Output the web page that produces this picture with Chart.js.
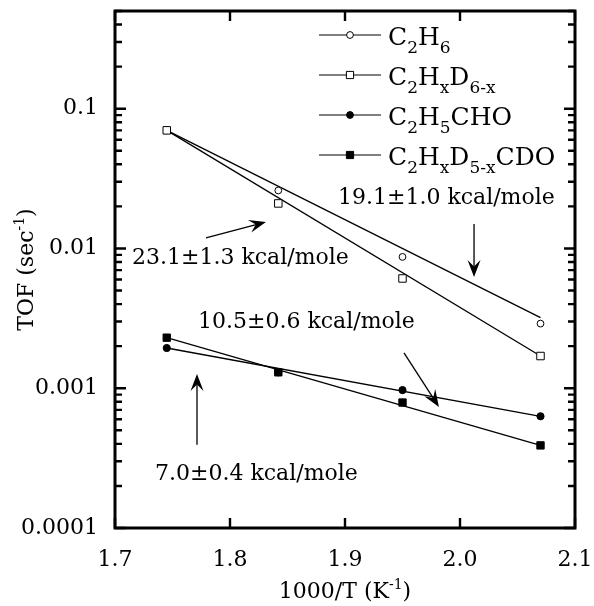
<!DOCTYPE html>
<html>
<head>
<meta charset="utf-8">
<script src="https://cdn.jsdelivr.net/npm/chart.js@4.4.1/dist/chart.umd.min.js"></script>
<style>
  html, body { margin: 0; padding: 0; background: #fff; }
  #wrap { width: 594px; height: 606px; }
</style>
</head>
<body>
<div id="wrap"><canvas id="tofChart" width="594" height="606"></canvas></div>
<script>
// Data
var xValues = [1.745, 1.842, 1.950, 2.070];
var c2h6 = [0.070, 0.026, 0.0087, 0.0029];
var c2hxd6x = [0.070, 0.021, 0.0061, 0.0017];
var c2h5cho = [0.00194, 0.0013, 0.00097, 0.00063];
var c2hxd5xcdo = [0.0023, 0.0013, 0.00079, 0.00039];

// Fitted lines (end points)
var fitX = [1.745, 2.070];
var fitC2h6 = [0.070, 0.0032];
var fitC2hxd6x = [0.070, 0.0017];
var fitC2h5cho = [0.00194, 0.00063];
var fitC2hxd5xcdo = [0.0023, 0.00039];

// Axes
var xTicks = [1.7, 1.8, 1.9, 2.0, 2.1];
var yDecades = [0.0001, 0.001, 0.01, 0.1];
var yMin = 0.0001, yMax = 0.5;

// Legend
var legendLabels = ['C_{2}H_{6}', 'C_{2}H_{x}D_{6-x}', 'C_{2}H_{5}CHO', 'C_{2}H_{x}D_{5-x}CDO'];
var legendMarkers = ['circleOpen', 'rectOpen', 'circle', 'rect'];

// Annotations (text anchor in data units, arrow tail -> tip in data units)
var noteTexts = ['23.1\u00b11.3 kcal/mole', '19.1\u00b11.0 kcal/mole', '10.5\u00b10.6 kcal/mole', '7.0\u00b10.4 kcal/mole'];
var noteAt = [[1.7148, 0.00855], [1.8939, 0.0230], [1.7722, 0.00298], [1.7348, 0.000244]];
var arrowTail = [[1.7791, 0.01189], [2.0122, 0.01496], [1.9513, 0.00179], [1.7713, 0.000394]];
var arrowTip = [[1.8313, 0.01549], [2.0122, 0.00625], [1.9817, 0.000735], [1.7713, 0.001265]];

var FONT = "'DejaVu Serif', 'Liberation Serif', serif";

var toPoints = function (xs, ys) {
  return xs.map(function (x, i) { return { x: x, y: ys[i] }; });
};

// Parse 'C_{2}H_{6}' / 'K^{-1}' into segments
var parseRich = function (s) {
  var parts = [];
  var re = /_\{([^}]*)\}|\^\{([^}]*)\}|([^_^]+)/g;
  var m;
  while ((m = re.exec(s)) !== null) {
    if (m[1] !== undefined) parts.push({ t: m[1], k: 'sub' });
    else if (m[2] !== undefined) parts.push({ t: m[2], k: 'sup' });
    else parts.push({ t: m[3], k: 'n' });
  }
  return parts;
};

var richWidth = function (ctx, s, size, small) {
  var w = 0;
  parseRich(s).forEach(function (p) {
    ctx.font = (p.k === 'n' ? size : small) + 'px ' + FONT;
    w += ctx.measureText(p.t).width;
  });
  return w;
};

var drawRich = function (ctx, s, x, y, size, small, subDy, supDy) {
  ctx.textBaseline = 'alphabetic';
  ctx.textAlign = 'left';
  parseRich(s).forEach(function (p) {
    ctx.font = (p.k === 'n' ? size : small) + 'px ' + FONT;
    var dy = p.k === 'sub' ? subDy : (p.k === 'sup' ? -supDy : 0);
    ctx.fillText(p.t, x, y + dy);
    x += ctx.measureText(p.t).width;
  });
};

var drawMarker = function (ctx, kind, x, y) {
  ctx.lineWidth = 1;
  ctx.strokeStyle = '#000';
  ctx.fillStyle = kind.indexOf('Open') > 0 ? '#fff' : '#000';
  ctx.beginPath();
  if (kind.indexOf('circle') === 0) ctx.arc(x, y, 3.4, 0, Math.PI * 2);
  else ctx.rect(x - 3.6, y - 3.6, 7.2, 7.2);
  ctx.fill();
  ctx.stroke();
};

var drawArrow = function (ctx, x0, y0, x1, y1) {
  var dx = x1 - x0, dy = y1 - y0;
  var len = Math.sqrt(dx * dx + dy * dy);
  var ux = dx / len, uy = dy / len;
  var L = 17, W = 6.5;
  ctx.strokeStyle = '#000';
  ctx.lineWidth = 1.3;
  ctx.beginPath();
  ctx.moveTo(x0, y0);
  ctx.lineTo(x1 - ux * L * 0.6, y1 - uy * L * 0.6);
  ctx.stroke();
  ctx.fillStyle = '#000';
  ctx.beginPath();
  ctx.moveTo(x1, y1);
  ctx.lineTo(x1 - ux * L - uy * W, y1 - uy * L + ux * W);
  ctx.lineTo(x1 - ux * L * 0.62, y1 - uy * L * 0.62);
  ctx.lineTo(x1 - ux * L + uy * W, y1 - uy * L - ux * W);
  ctx.closePath();
  ctx.fill();
};

// Frame, inward ticks, axis titles, legend and notes
var decorPlugin = {
  id: 'decor',
  afterDraw: function (chart) {
    var ctx = chart.ctx;
    var a = chart.chartArea;
    var xs = chart.scales.x, ys = chart.scales.y;
    ctx.save();

    // ticks
    ctx.strokeStyle = '#000';
    ctx.lineWidth = 2.4;
    ctx.beginPath();
    xTicks.forEach(function (v) {
      var px = xs.getPixelForValue(v);
      ctx.moveTo(px, a.bottom); ctx.lineTo(px, a.bottom - 10);
      ctx.moveTo(px, a.top); ctx.lineTo(px, a.top + 10);
    });
    yDecades.forEach(function (d) {
      for (var k = 1; k <= 9; k++) {
        var v = d * k;
        if (v > yMax * 1.0001) break;
        var py = ys.getPixelForValue(v);
        var tl = k === 1 ? 11 : 7;
        ctx.moveTo(a.left, py); ctx.lineTo(a.left + tl, py);
        ctx.moveTo(a.right, py); ctx.lineTo(a.right - tl, py);
      }
    });
    ctx.stroke();

    // frame
    ctx.lineWidth = 3;
    ctx.strokeRect(a.left, a.top, a.right - a.left, a.bottom - a.top);

    // axis titles
    ctx.fillStyle = '#000';
    var xt = '1000/T (K^{-1})';
    var xw = richWidth(ctx, xt, 22, 14);
    drawRich(ctx, xt, (a.left + a.right) / 2 - xw / 2, 598, 22, 14, 0, 9);
    var yt = 'TOF (sec^{-1})';
    var yw = richWidth(ctx, yt, 22, 14);
    ctx.save();
    ctx.translate(33, (a.top + a.bottom) / 2);
    ctx.rotate(-Math.PI / 2);
    drawRich(ctx, yt, -yw / 2, 0, 22, 14, 0, 9);
    ctx.restore();

    // legend
    legendLabels.forEach(function (lab, i) {
      var ly = a.top + 24 + i * 40;
      var lx = a.right - 256;
      ctx.strokeStyle = '#000';
      ctx.lineWidth = 1.2;
      ctx.beginPath();
      ctx.moveTo(lx, ly); ctx.lineTo(lx + 62, ly);
      ctx.stroke();
      drawMarker(ctx, legendMarkers[i], lx + 31, ly);
      ctx.fillStyle = '#000';
      drawRich(ctx, lab, lx + 69, ly + 10, 25, 17, 8, 0);
    });

    // notes and arrows
    ctx.fillStyle = '#000';
    noteTexts.forEach(function (t, i) {
      ctx.font = '22px ' + FONT;
      ctx.textAlign = 'left';
      ctx.textBaseline = 'middle';
      ctx.fillText(t, xs.getPixelForValue(noteAt[i][0]), ys.getPixelForValue(noteAt[i][1]));
      drawArrow(ctx,
        xs.getPixelForValue(arrowTail[i][0]), ys.getPixelForValue(arrowTail[i][1]),
        xs.getPixelForValue(arrowTip[i][0]), ys.getPixelForValue(arrowTip[i][1]));
    });
    ctx.restore();
  }
};

var pointSet = function (ys, style, filled, radius) {
  return {
    type: 'scatter',
    data: toPoints(xValues, ys),
    showLine: false,
    pointStyle: style,
    pointRadius: radius,
    pointBorderWidth: 1,
    pointBorderColor: '#000',
    pointBackgroundColor: filled ? '#000' : '#fff',
    order: 0
  };
};

var fitSet = function (ys) {
  return {
    type: 'line',
    data: toPoints(fitX, ys),
    borderColor: '#000',
    borderWidth: 1.3,
    pointRadius: 0,
    fill: false,
    order: 1
  };
};

var zeroPad = function (scale) {
  scale.paddingLeft = 0;
  scale.paddingRight = 0;
  scale.paddingTop = 0;
  scale.paddingBottom = 0;
};

document.addEventListener('DOMContentLoaded', function () {
  var ctx = document.getElementById('tofChart').getContext('2d');
  new Chart(ctx, {
    type: 'scatter',
    data: {
      datasets: [
        pointSet(c2hxd6x, 'rect', false, 5.3),
        pointSet(c2h6, 'circle', false, 3.4),
        pointSet(c2hxd5xcdo, 'rect', true, 5.2),
        pointSet(c2h5cho, 'circle', true, 3.6),
        fitSet(fitC2h6),
        fitSet(fitC2hxd6x),
        fitSet(fitC2h5cho),
        fitSet(fitC2hxd5xcdo)
      ]
    },
    options: {
      responsive: false,
      animation: false,
      events: [],
      layout: { padding: { left: 0, right: 19, top: 11, bottom: 0 } },
      plugins: { legend: { display: false }, tooltip: { enabled: false } },
      scales: {
        x: {
          type: 'linear',
          min: 1.7,
          max: 2.1,
          afterBuildTicks: function (scale) {
            scale.ticks = xTicks.map(function (v) { return { value: v }; });
          },
          afterFit: function (scale) { scale.height = 78; zeroPad(scale); },
          grid: { display: false, drawTicks: false },
          border: { display: false },
          ticks: {
            padding: 19,
            color: '#000',
            font: { family: FONT, size: 22 },
            maxRotation: 0,
            callback: function (v) { return Number(v).toFixed(1); }
          }
        },
        y: {
          type: 'logarithmic',
          min: yMin,
          max: yMax,
          afterBuildTicks: function (scale) {
            scale.ticks = yDecades.map(function (v) { return { value: v }; });
          },
          afterFit: function (scale) { scale.width = 115; zeroPad(scale); },
          grid: { display: false, drawTicks: false },
          border: { display: false },
          ticks: {
            padding: 17,
            color: '#000',
            font: { family: FONT, size: 22 },
            callback: function (v) { return String(Number(v)); }
          }
        }
      }
    },
    plugins: [decorPlugin]
  });
});
</script>
</body>
</html>
